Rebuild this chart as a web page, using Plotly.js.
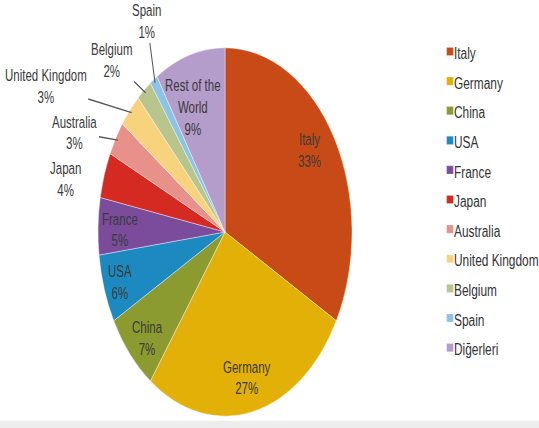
<!DOCTYPE html>
<html>
<head>
<meta charset="utf-8">
<script src="https://cdn.plot.ly/plotly-3.0.1.min.js"></script>
<style>
  html, body { margin: 0; padding: 0; background: #ffffff; }
  #wrap { width: 539px; height: 428px; position: relative; overflow: hidden; background: #ededed; }
  /* the chart is laid out short and stretched tall, giving the oval pie */
  #chart { width: 539px; height: 290px; transform: scaleY(1.45); transform-origin: 0 0; background: #ffffff; }
</style>
</head>
<body>
<div id="wrap"><div id="chart"></div></div>
<script>
// legend names, in slice order (clockwise from 12 o'clock)
const countries = ['Italy', 'Germany', 'China', 'USA', 'France', 'Japan',
                   'Australia', 'United Kingdom', 'Belgium', 'Spain', 'Diğerleri'];
// share of the total, in percent
const shares = [33, 27, 7, 6, 5, 4, 3, 3, 2, 1, 9];
// text written on or beside each slice
const sliceNames = ['Italy', 'Germany', 'China', 'USA', 'France', 'Japan',
                    'Australia', 'United Kingdom', 'Belgium', 'Spain', 'Rest of the<br>World'];

// ---- styling ----
const sliceColors = ['#C84B17', '#E2B007', '#8B9B2F', '#1C8AC0', '#7B4B9C', '#D42A22',
                     '#E8918A', '#F8D37E', '#B8C68E', '#8CC3E6', '#B49CCB'];
// label distance from the centre (in pie radii) and a small turn (degrees) off the slice middle
const labelRing = [0.80, 0.81, 0.84, 0.87, 0.83, 1.29, 1.30, 1.62, 1.29, 1.30, 0.72];
const labelTurn = [-3, 0, -2, 0, -1, -5, -6, -12, -4, 6, -4];
const withLeader = [false, false, false, false, false, false, true, true, true, true, false];

const W = 539, H = 290;
const domX = [0.1818, 0.6531], domY = [0.0103, 0.8862];
const FONT = 'Liberation Sans, Arial, sans-serif';

// pie geometry in paper pixels (same rule Plotly uses: centre of domain, radius = half the shorter side)
const cx = (domX[0] + domX[1]) / 2 * W;
const cy = (1 - (domY[0] + domY[1]) / 2) * H;
const R = Math.min((domX[1] - domX[0]) * W, (domY[1] - domY[0]) * H) / 2;
const total = shares.reduce((a, b) => a + b, 0);

const annotations = [];
let before = 0;
shares.forEach(function (v, i) {
  const mid = (before + v / 2) / total;
  before += v;
  const ang = (mid * 360 + labelTurn[i]) * Math.PI / 180;
  const lx = cx + labelRing[i] * R * Math.sin(ang);
  const ly = cy - labelRing[i] * R * Math.cos(ang);
  const txt = sliceNames[i] + '<br>' + v + '%';
  const font = { family: FONT, size: 11.5, color: '#3a3a3a' };
  if (withLeader[i]) {
    const a0 = mid * 2 * Math.PI;
    const tx = cx + 0.98 * R * Math.sin(a0);
    const ty = cy - 0.98 * R * Math.cos(a0);
    annotations.push({
      xref: 'paper', yref: 'paper', x: tx / W, y: 1 - ty / H,
      ax: lx - tx, ay: ly - ty, text: txt, font: font,
      showarrow: true, arrowhead: 0, arrowwidth: 1, arrowcolor: '#555555', standoff: 0
    });
  } else {
    annotations.push({
      xref: 'paper', yref: 'paper', x: lx / W, y: 1 - ly / H,
      xanchor: 'center', yanchor: 'middle', text: txt, font: font, showarrow: false
    });
  }
});

const trace = {
  type: 'pie',
  labels: countries,
  values: shares,
  textinfo: 'none',
  sort: false,
  direction: 'clockwise',
  rotation: 0,
  hoverinfo: 'label+percent',
  marker: { colors: sliceColors, line: { color: 'rgba(255,255,255,0.55)', width: 0.6 } },
  domain: { x: domX, y: domY },
  automargin: false
};

const layout = {
  width: W,
  height: H,
  margin: { l: 0, r: 0, t: 0, b: 0, autoexpand: false },
  paper_bgcolor: '#ffffff',
  showlegend: true,
  legend: {
    x: 414 / W, xanchor: 'left',
    y: 0.93, yanchor: 'top',
    // this size sets the row spacing; the names themselves are drawn a bit smaller below
    font: { family: FONT, size: 13.4, color: '#333333' },
    bgcolor: 'rgba(0,0,0,0)',
    traceorder: 'normal'
  },
  annotations: annotations,
  font: { family: FONT }
};

Plotly.newPlot('chart', [trace], layout, { staticPlot: true, displayModeBar: false }).then(function (gd) {
  // small square keys sitting right next to their names
  gd.querySelectorAll('.legend .legendpoints path').forEach(function (p) {
    p.setAttribute('transform', 'translate(36,0) scale(0.56,0.47)');
  });
  gd.querySelectorAll('.legend text.legendtext').forEach(function (t) {
    t.style.fontSize = '11.9px';
  });
});
</script>
</body>
</html>
